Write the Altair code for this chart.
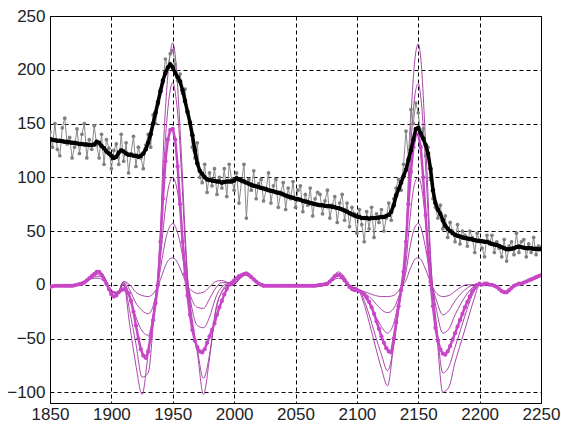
import altair as alt
import pandas as pd

# ---------------- data ----------------
years = list(range(1850, 2251, 2))

black_vals = [
    135.5, 135, 134.5, 134, 134, 133.5, 133, 133, 132.5, 132,
    132, 131.5, 131, 131, 130.5, 130.5, 130, 130, 130.5, 133,
    132, 129, 127, 124, 122, 120, 118, 119, 123, 125,
    124, 122, 121, 121, 120, 120, 119, 120, 122, 126,
    132, 140, 150, 160, 170, 180, 190, 197, 202, 205,
    202, 197, 193, 189, 181, 171, 161, 151, 139, 125,
    113, 106, 103, 100, 98, 97.5, 97, 96.5, 96, 96,
    95, 95.5, 96, 96, 96, 97, 99, 98, 97, 96,
    95, 94, 93, 92, 91.5, 91, 90, 89.5, 89, 88,
    87.5, 87, 86, 85.5, 85, 84, 83, 82, 81.5, 81,
    80, 79.5, 79, 78, 77.5, 77, 76, 75.5, 75, 74.5,
    74, 74, 73.5, 73, 73, 72.5, 72, 71.5, 71, 70,
    69, 68, 66.5, 65.5, 64.5, 63.5, 63, 62, 62, 62,
    61.5, 62, 62, 62, 62.5, 63, 63, 64, 65, 68,
    74, 83, 89, 95, 101, 107, 116, 125, 135, 145,
    146, 141, 136, 130, 122, 108, 88, 76, 70, 66,
    60, 55, 52, 50, 48, 46.5, 45.5, 45, 44, 43.5,
    43, 42.5, 42, 41.5, 41, 41, 40.5, 40, 40, 39,
    38, 37.5, 37, 36, 35, 34, 33, 33, 33.5, 34,
    35, 35.5, 35, 34.5, 34, 34, 34, 33.5, 33.5, 33,
    33,
]

gray_vals = [
    142, 128, 150, 126, 120, 146, 155, 131, 137, 118,
    128, 145, 122, 140, 150, 118, 135, 126, 148, 130,
    118, 140, 112, 135, 127, 108, 125, 131, 112, 140,
    115, 132, 104, 122, 138, 110, 128, 118, 108, 130,
    140, 128, 158, 150, 168, 182, 188, 210, 202, 215,
    218, 205, 190, 196, 178, 182, 160, 150, 128, 118,
    132, 100, 95, 112, 86, 104, 92, 108, 84, 100,
    90, 108, 82, 112, 98, 88, 104, 76, 96, 112,
    62, 98, 88, 106, 80, 94, 98, 78, 88, 104,
    76, 92, 98, 72, 86, 95, 70, 90, 80, 96,
    72, 88, 92, 68, 84, 74, 90, 64, 80, 86,
    84, 66, 78, 88, 62, 74, 82, 58, 76, 84,
    60, 76, 54, 72, 66, 48, 70, 56, 40, 68,
    52, 72, 44, 66, 58, 70, 50, 62, 76, 60,
    80, 90, 98, 88, 112, 143, 118, 163, 150, 169,
    160, 138, 145, 120, 128, 98, 80, 72, 62, 74,
    52, 64, 44, 58, 50, 40, 56, 38, 50, 46,
    36, 50, 44, 30, 48, 40, 34, 26, 46, 38,
    46, 30, 40, 34, 26, 42, 22, 36, 40, 28,
    48, 30, 40, 42, 26, 38, 30, 44, 28, 36,
    35,
]

thick_vals = [
    -2, -1.5, -1, -1, -1, -1, -1, -1, -1, -1,
    -0.5, 0, 0.5, 1, 2, 4, 6, 8, 10, 12,
    12, 9, 5, 1, -4, -9, -11, -10, -7, -5,
    -4, -5, -8, -15, -25, -38, -50, -60, -66, -68,
    -62, -48, -33, -17, 0, 40, 80, 115, 135, 144,
    145, 135, 110, 75, 40, 10, -10, -28, -42, -52,
    -58, -62, -63, -60, -54, -48, -42, -36, -28, -21,
    -15, -9, -4, 0, 2, 4, 6, 8, 9, 10,
    10, 9, 7, 5, 3, 1, 0, -1, -1, -1,
    -1, -1, -1, -1, -1, -1, -1, -1, -1, -1,
    -1, -1, -1, -1, -1, -1, -1, -1, -1, -0.5,
    0, 0, 0.5, 1, 3, 5, 8, 9, 9, 7,
    4, 1, -2, -4, -5, -5, -6, -7, -9, -12,
    -16, -21, -27, -34, -41, -48, -54, -59, -62, -63,
    -50, -35, -20, -5, 12, 40, 75, 105, 128, 140,
    140, 128, 100, 65, 30, 3, -20, -40, -52, -60,
    -64, -65, -62, -57, -51, -45, -39, -33, -27, -21,
    -16, -11, -6, -3, 0, 1, 0, 1, 1, 0,
    0, -1, -2, -4, -6, -7, -7, -5, -3, -1,
    0, 1, 1, 2, 3, 4, 5, 6, 7, 8,
    9,
]

thin_years = (
    [1850, 1855, 1860, 1865, 1870, 1875, 1880, 1885, 1890, 1895, 1900, 1905,
     1910, 1915, 1920, 1925, 1930, 1935]
    + [1937.5, 1940, 1942.5, 1945, 1947.5, 1950, 1952.5, 1955, 1957.5, 1960, 1962.5, 1965]
    + [1970, 1975, 1980, 1985, 1990, 1995]
    + [2000, 2005, 2010, 2015, 2020, 2025]
    + [2030, 2035, 2040, 2045, 2050, 2055, 2060, 2065, 2070]
    + [2075, 2080, 2085, 2090, 2095, 2100, 2105, 2110, 2115, 2120, 2125, 2130, 2135]
    + [2137.5, 2140, 2142.5, 2145, 2147.5, 2150, 2152.5, 2155, 2157.5, 2160, 2162.5, 2165]
    + [2170, 2175, 2180, 2185, 2190, 2195, 2200, 2205, 2210, 2215, 2220, 2225,
       2230, 2235, 2240, 2245, 2250]
)

thin_1 = [
    -1, -1, -1, 0, 0, 1, 3, 6, 6, 2, -5, -7, 3, 0, -7, -10, -11, -7,
    -2, 5, 13, 20, 24, 25, 23, 18, 11, 4, -2, -5,
    -8, -7, -2, 3, 4, 2,
    1, 6, 9, 6, 2, 0,
    -1, -1, -1, -1, -1, -1, -1, -1, -1,
    1, 4, 6, 4, -1, -4, -6, -8, -10, -11, -11, -10, -4,
    0, 4, 12, 19, 24, 25, 23, 17, 10, 2, -4, -8,
    -11, -10, -6, -2, 0, 0, 1, 1, 0, -3, -6, -5, 0, 1, 3, 5, 8,
]
thin_2 = [
    -1, -1, -1, 0, 0, 1, 3, 7, 8, 3, -6, -8, 3, -5, -17, -24, -27, -16,
    -1, 15, 32, 46, 54, 57, 53, 44, 30, 13, -2, -12,
    -21, -22, -13, -3, 2, 2,
    1, 6, 10, 6, 2, 0,
    -1, -1, -1, -1, -1, -1, -1, -1, -1,
    1, 5, 8, 5, -1, -4, -7, -11, -17, -23, -26, -22, -8,
    0, 12, 30, 45, 54, 57, 52, 40, 24, 6, -6, -15,
    -28, -24, -15, -8, -3, 0, 1, 1, 0, -3, -6, -5, 0, 1, 4, 6, 8,
]
thin_3 = [
    -2, -1, -1, 0, 0, 1, 4, 8, 10, 4, -6, -8, 2, -12, -30, -43, -47, -20,
    0, 25, 55, 80, 95, 100, 94, 78, 52, 22, 0, -18,
    -38, -40, -30, -12, -2, 1,
    1, 7, 11, 7, 2, 0,
    -1, -1, -1, -1, -1, -1, -1, -1, -1,
    1, 5, 9, 5, -2, -4, -9, -18, -29, -39, -45, -36, -10,
    0, 20, 52, 80, 96, 100, 92, 70, 42, 12, -8, -24,
    -45, -41, -28, -17, -8, -2, 0, 1, 0, -3, -7, -5, 0, 1, 4, 6, 9,
]
thin_4 = [
    -2, -1, -1, 0, 0, 1, 4, 9, 12, 5, -7, -8, 1, -25, -55, -86, -82, -25,
    0, 40, 105, 150, 178, 188, 175, 145, 95, 40, 0, -25,
    -60, -87, -65, -25, -6, 0,
    0, 7, 11, 7, 2, 0,
    -1, -1, -1, -1, -1, -1, -1, -1, -1,
    1, 6, 10, 6, -2, -3, -12, -28, -47, -65, -80, -57, -16,
    2, 35, 95, 148, 178, 187, 170, 130, 78, 22, -12, -38,
    -82, -76, -58, -40, -22, -7, 0, 1, 0, -3, -7, -5, 0, 1, 4, 6, 9,
]
thin_5 = [
    -3, -1, -1, 0, 0, 2, 5, 10, 13, 6, -7, -7, 0, -38, -75, -102, -64, -20,
    5, 50, 130, 180, 212, 225, 208, 165, 110, 50, 0, -30,
    -63, -102, -68, -23, -7, -1,
    0, 8, 12, 7, 2, 0,
    -1, -1, -1, -1, -1, -1, -1, -1, -1,
    1, 7, 12, 7, -2, -3, -15, -35, -57, -78, -94, -55, -13,
    5, 45, 115, 175, 212, 224, 205, 155, 95, 28, -15, -45,
    -100, -95, -72, -53, -34, -15, 0, 1, 0, -3, -7, -5, 0, 1, 4, 6, 9,
]

x_ticks = list(range(1850, 2251, 50))
y_ticks = list(range(-100, 251, 50))

# ---------------- tables ----------------
dense = pd.DataFrame({"year": years, "black": black_vals, "gray": gray_vals, "thick": thick_vals})
thin_rows = []
for name, vals in [("a", thin_1), ("b", thin_2), ("c", thin_3), ("d", thin_4), ("e", thin_5)]:
    for yr, v in zip(thin_years, vals):
        thin_rows.append({"year": yr, "value": v, "curve": name})
thin = pd.DataFrame(thin_rows)

xs = alt.Scale(domain=[1850, 2250], nice=False, zero=False)
ys = alt.Scale(domain=[-110, 250], nice=False, zero=False)
xax = alt.Axis(values=x_ticks, format="d", title=None, labelFlush=False)
yax = alt.Axis(values=y_ticks, format="d", title=None, labelFlush=False)


def X():
    return alt.X("year:Q", scale=xs, axis=xax)


def Y(field):
    return alt.Y(f"{field}:Q", scale=ys, axis=yax)


MAG = "#c846c8"
THIN = "#a845a8"

thin_layer = alt.Chart(thin).mark_line(
    strokeWidth=1, color=THIN, clip=True, interpolate="monotone"
).encode(x=X(), y=Y("value"), detail="curve:N")
thick_line = alt.Chart(dense).mark_line(strokeWidth=2.5, color=MAG, clip=True).encode(x=X(), y=Y("thick"))
thick_pts = alt.Chart(dense).mark_circle(size=18, color=MAG, opacity=1, clip=True).encode(x=X(), y=Y("thick"))
gray_line = alt.Chart(dense).mark_line(strokeWidth=1, color="#8a8a8a", clip=True).encode(x=X(), y=Y("gray"))
gray_pts = alt.Chart(dense).mark_circle(size=14, color="#808080", opacity=1, clip=True).encode(x=X(), y=Y("gray"))
black_line = alt.Chart(dense).mark_line(strokeWidth=3.5, color="#000000", clip=True).encode(x=X(), y=Y("black"))
black_pts = alt.Chart(dense).mark_circle(size=20, color="#000000", opacity=1, clip=True).encode(x=X(), y=Y("black"))

chart = (
    alt.layer(thin_layer, thick_line, thick_pts, gray_line, gray_pts, black_line, black_pts)
    .properties(
        width=491,
        height=387,
        autosize=alt.AutoSizeParams(type="none"),
        padding={"left": 50, "top": 16, "right": 20, "bottom": 21},
        background="white",
    )
    .configure_view(stroke="#000000", strokeWidth=1)
    .configure_axis(
        labelFont="Liberation Sans",
        labelFontSize=17,
        labelColor="#222222",
        domain=False,
        ticks=False,
        grid=True,
        gridColor="#000000",
        gridOpacity=1,
        gridDash=[4, 3],
        gridWidth=1,
    )
    .configure_axisX(labelPadding=3)
    .configure_axisY(labelPadding=5)
)

chart.save("out.html", embed_options={"renderer": "svg", "actions": False})
